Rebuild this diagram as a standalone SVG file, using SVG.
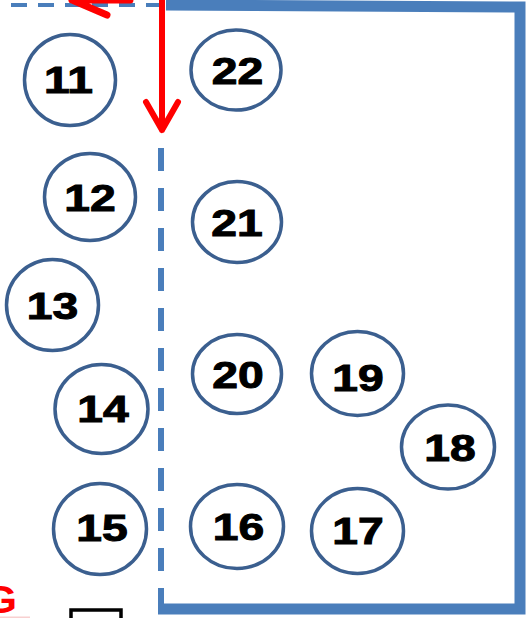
<svg xmlns="http://www.w3.org/2000/svg" width="529" height="618" viewBox="0 0 529 618">
<style>
.node ellipse{fill:#fff;stroke:#3B5F8F;stroke-width:3.5}
.lbl{font-family:"Liberation Sans",Arial,sans-serif;font-weight:bold;font-size:37px;fill:#000;stroke:#000;stroke-width:1;text-anchor:middle}
.red{stroke:#FF0000;fill:none;stroke-linecap:round;stroke-linejoin:round}
</style>
<rect width="529" height="618" fill="#fff"/>
<g id="connectors">
  <line x1="11" y1="5" x2="160" y2="5" stroke="#4A7EBB" stroke-width="4" stroke-dasharray="16 11"/>
  <line x1="161" y1="148" x2="161" y2="604" stroke="#4A7EBB" stroke-width="6" stroke-dasharray="23 17"/>
  <polyline points="166,5 520,7 520,609 158,609" fill="none" stroke="#4A7EBB" stroke-width="11" stroke-linejoin="miter"/>
  <line x1="161" y1="603" x2="161" y2="609" stroke="#4A7EBB" stroke-width="6"/>
  <path class="red" d="M162,-5 V130 M146,102 L162,130 L178,102" stroke-width="6"/>
  <path class="red" d="M130,0 H72 M72,0 L107,15" stroke-width="7"/>
</g>
<g id="n11" class="node"><ellipse cx="70" cy="80" rx="45.5" ry="45.5"/><text class="lbl" transform="translate(68.5,92.5) scale(1.25,1)">11</text></g>
<g id="n22" class="node"><ellipse cx="236" cy="70" rx="45" ry="40"/><text class="lbl" transform="translate(237.5,84) scale(1.25,1)">22</text></g>
<g id="n12" class="node"><ellipse cx="90" cy="197" rx="45.5" ry="43.5"/><text class="lbl" transform="translate(90,210.5) scale(1.25,1)">12</text></g>
<g id="n21" class="node"><ellipse cx="237" cy="222" rx="44.5" ry="40.5"/><text class="lbl" transform="translate(237,235.5) scale(1.25,1)">21</text></g>
<g id="n13" class="node"><ellipse cx="52.5" cy="305" rx="46" ry="45.5"/><text class="lbl" transform="translate(52.5,318.5) scale(1.25,1)">13</text></g>
<g id="n14" class="node"><ellipse cx="101.5" cy="409" rx="46.5" ry="44.5"/><text class="lbl" transform="translate(103,421.5) scale(1.25,1)">14</text></g>
<g id="n20" class="node"><ellipse cx="237" cy="374" rx="44.5" ry="39.5"/><text class="lbl" transform="translate(238,387.5) scale(1.25,1)">20</text></g>
<g id="n19" class="node"><ellipse cx="357.5" cy="373.5" rx="46" ry="42"/><text class="lbl" transform="translate(358,390.5) scale(1.25,1)">19</text></g>
<g id="n18" class="node"><ellipse cx="448" cy="447" rx="46.5" ry="42"/><text class="lbl" transform="translate(450,461) scale(1.25,1)">18</text></g>
<g id="n17" class="node"><ellipse cx="357.5" cy="531" rx="46" ry="42.5"/><text class="lbl" transform="translate(358,543.5) scale(1.25,1)">17</text></g>
<g id="n15" class="node"><ellipse cx="100" cy="529" rx="46.5" ry="45.5"/><text class="lbl" transform="translate(102,541) scale(1.25,1)">15</text></g>
<g id="n16" class="node"><ellipse cx="237" cy="526.5" rx="46.5" ry="42"/><text class="lbl" transform="translate(238.5,539.5) scale(1.25,1)">16</text></g>
<g id="fragments">
  <text x="0" y="0" transform="translate(17,613) scale(1.1,1)" font-family="Liberation Sans, Arial, sans-serif" font-weight="bold" font-size="39" fill="#FF0000" text-anchor="end">G</text>
  <rect x="0" y="616.5" width="30" height="1.5" fill="#F8D0D0"/>
  <rect x="71" y="610" width="50" height="20" fill="#fff" stroke="#000" stroke-width="3.5"/>
</g>
</svg>
